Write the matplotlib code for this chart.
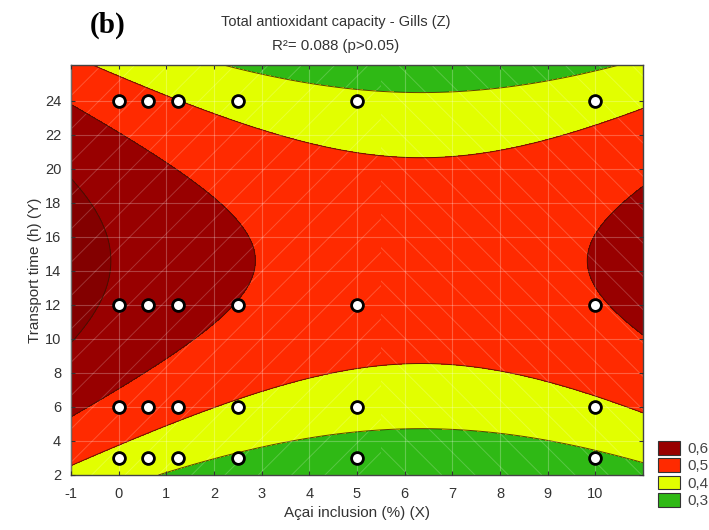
import numpy as np
import matplotlib.pyplot as plt
from matplotlib.patches import Patch

plt.rcParams["font.family"] = ["Liberation Sans", "DejaVu Sans"]
plt.rcParams["axes.unicode_minus"] = False
plt.rcParams["hatch.linewidth"] = 0.7

# -------------------------
# Daten
# -------------------------

# Versuchspunkte
acai_levels = [0, 0.625, 1.25, 2.5, 5, 10]
time_levels = [3, 6, 12, 24]

# angepasste Fläche Z = c0 + a*(x-x0)^2 - b*(y-y0)^2
surf_c0 = 0.560
surf_a = 0.0033
surf_b = 0.00164
surf_x0 = 6.35
surf_y0 = 14.6

levels = [0.2, 0.4, 0.5, 0.6, 0.7, 0.9]
level_colors = ["#2fb915", "#e2ff00", "#ff2a00", "#980000", "#830000"]

legend_labels = ["0,6", "0,5", "0,4", "0,3"]
legend_colors = ["#980000", "#ff2a00", "#e2ff00", "#2fb915"]

# -------------------------
# Plot
# -------------------------

fig = plt.figure(figsize=(7.09, 5.30), dpi=100, facecolor="white")
ax = fig.add_axes([0.1001, 0.1038, 0.8068, 0.7736])

xg = np.linspace(-1, 11, 300)
yg = np.linspace(2, 26.1, 300)
X, Y = np.meshgrid(xg, yg)
Z = surf_c0 + surf_a * (X - surf_x0) ** 2 - surf_b * (Y - surf_y0) ** 2

ax.contourf(X, Y, Z, levels=levels, colors=level_colors)
ax.contour(X, Y, Z, levels=levels[1:-1], colors="#3a1200", linewidths=0.7, alpha=0.8)

# feine Textur wie im Original (Statistica-Export)
ax.axvspan(-1, 5.5, facecolor="none", edgecolor=(1, 1, 1, 0.2), linewidth=0,
           hatch="/", zorder=1.5)
ax.axvspan(5.5, 11, facecolor="none", edgecolor=(1, 1, 1, 0.2), linewidth=0,
           hatch="\\", zorder=1.5)

ax.grid(True, color="white", alpha=0.25, linewidth=0.8)
ax.set_axisbelow(False)

px, py = np.meshgrid(acai_levels, time_levels)
ax.plot(px.ravel(), py.ravel(), "o", markersize=8.5, markerfacecolor="white",
        markeredgecolor="black", markeredgewidth=2, linestyle="none", zorder=5)

ax.set_xlim(-1, 11)
ax.set_ylim(2, 26.1)
ax.set_xticks(range(-1, 11))
ax.set_yticks(range(2, 25, 2))
ax.tick_params(direction="in", top=True, right=True, length=3,
               labelsize=10.5, labelcolor="#333333", color="#333333")
ax.tick_params(axis="x", pad=9)
ax.tick_params(axis="y", pad=7)
for s in ax.spines.values():
    s.set_color("#444444")
    s.set_linewidth(1.0)

ax.set_xlabel("Açai inclusion (%) (X)", fontsize=11, color="#333333", labelpad=3)
ax.set_ylabel("Transport time (h) (Y)", fontsize=11, color="#333333", labelpad=2)

fig.text(0.474, 0.958, "Total antioxidant capacity - Gills (Z)", ha="center", va="center",
         fontsize=10.5, color="#333333")
fig.text(0.474, 0.913, "R²= 0.088 (p>0.05)", ha="center", va="center",
         fontsize=10.8, color="#333333")
fig.text(0.152, 0.953, "(b)", ha="center", va="center", fontsize=21,
         fontweight="bold", family=["Liberation Serif", "DejaVu Serif"])

handles = [Patch(facecolor=c, edgecolor="#333333", linewidth=0.8) for c in legend_colors]
fig.legend(handles, legend_labels, loc="lower left", bbox_to_anchor=(0.917, 0.027),
           frameon=False, fontsize=11, handlelength=1.45, handleheight=1.0,
           labelspacing=0.15, handletextpad=0.5, borderpad=0, labelcolor="#444444")

plt.savefig("out.png", dpi=100)
